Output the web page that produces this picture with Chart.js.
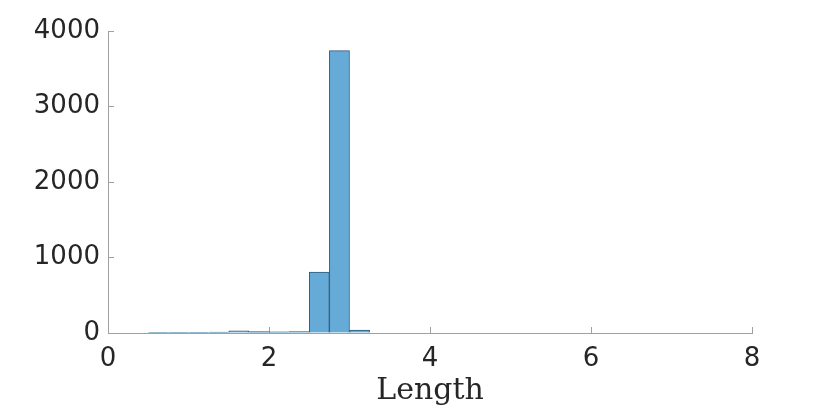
<!DOCTYPE html>
<html>
<head>
<meta charset="utf-8">
<script src="https://cdn.jsdelivr.net/npm/chart.js@4/dist/chart.umd.min.js"></script>
<style>
  html, body { margin: 0; padding: 0; background: #fff; }
  #wrap { width: 830px; height: 415px; position: relative; }
</style>
</head>
<body>
<div id="wrap"><canvas id="graphique"></canvas></div>
<script>
// histogram bins (edges every 0.25) and counts
var binLeft = [0.5, 0.75, 1.0, 1.25, 1.5, 1.75, 2.0, 2.25, 2.5, 2.75, 3.0];
var binWidth = 0.25;
var counts = [3, 3, 5, 12, 30, 18, 16, 20, 807, 3740, 38];
var xTicks = [0, 2, 4, 6, 8];
var yTicks = [0, 1000, 2000, 3000, 4000];

var points = binLeft.map(function(b, i) {
  return { x: b + binWidth / 2, y: counts[i] };
});

var axisCol = '#a0a0a0';
var textCol = '#262626';

var ctx = document.getElementById('graphique');
var myChart = new Chart(ctx, {
  type: 'bar',
  data: {
    datasets: [{
      data: points,
      backgroundColor: '#66aad7',
      borderColor: '#2d5a7a',
      borderWidth: 1,
      barPercentage: 1,
      categoryPercentage: 1
    }]
  },
  options: {
    responsive: true,
    maintainAspectRatio: false,
    animation: false,
    layout: { padding: { top: 31, right: 78, left: 0, bottom: 0 } },
    plugins: { legend: { display: false }, tooltip: { enabled: false } },
    scales: {
      x: {
        type: 'linear',
        min: 0, max: 8,
        offset: false,
        afterBuildTicks: function(s) { s.ticks = xTicks.map(function(v) { return { value: v }; }); },
        afterFit: function(s) { s.height = 82; },
        grid: { drawOnChartArea: false, tickLength: -6, color: axisCol, offset: false },
        border: { color: axisCol },
        ticks: {
          color: textCol, padding: 17, maxRotation: 0,
          font: { family: 'DejaVu Sans', size: 26 },
          callback: function(v) { return String(v); }
        },
        title: {
          display: true, text: 'Length', color: textCol,
          font: { family: 'DejaVu Serif', size: 30 },
          padding: { top: 0, bottom: 6 }
        }
      },
      y: {
        min: 0, max: 4000,
        afterBuildTicks: function(s) { s.ticks = yTicks.map(function(v) { return { value: v }; }); },
        afterFit: function(s) { s.width = 108; },
        grid: { drawOnChartArea: false, tickLength: -6, color: axisCol },
        border: { color: axisCol },
        ticks: {
          color: textCol, padding: 14,
          font: { family: 'DejaVu Sans', size: 26 },
          callback: function(v) { return String(v); }
        }
      }
    }
  }
});
</script>
</body>
</html>
